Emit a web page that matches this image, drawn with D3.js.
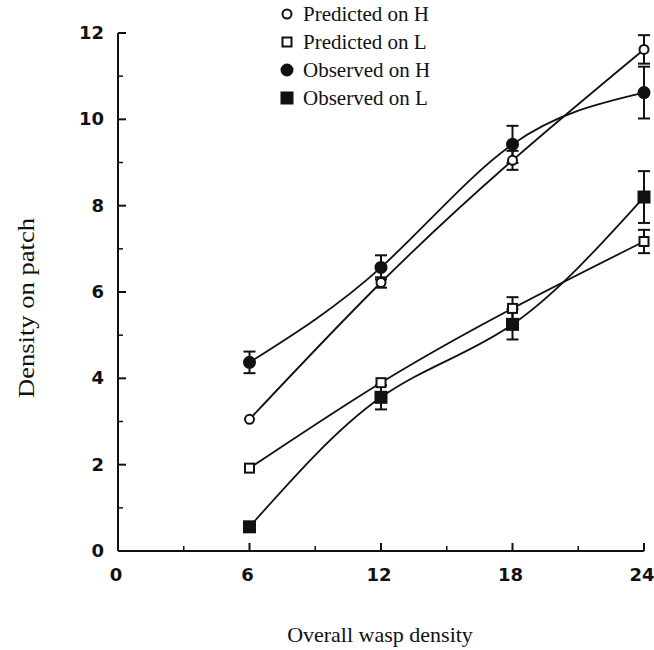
<!DOCTYPE html>
<meta charset="utf-8">
<style>
body { margin: 0; background: #fff; }
.tick-label { font-family: "DejaVu Sans", sans-serif; font-weight: bold; font-size: 18px; fill: #111; }
.title { font-family: "Liberation Serif", serif; font-size: 22px; fill: #111; }
.legend text { font-family: "Liberation Serif", serif; font-size: 21px; fill: #111; }
</style>
<svg width="654" height="650"></svg>
<script src="https://cdn.jsdelivr.net/npm/d3@7/dist/d3.min.js"></script>
<script>

var svg = d3.select("svg");

// values
var waspDensity = [6, 12, 18, 24];
var predictedH = [3.05, 6.22, 9.05, 11.62];
var predictedHErr = [0, 0.12, 0.22, 0.33];
var observedH = [4.37, 6.57, 9.42, 10.62];
var observedHErr = [0.25, 0.28, 0.43, 0.6];
var predictedL = [1.92, 3.9, 5.62, 7.17];
var predictedLErr = [0, 0, 0.26, 0.27];
var observedL = [0.56, 3.56, 5.25, 8.2];
var observedLErr = [0, 0.28, 0.35, 0.6];

var xTicks = [0, 6, 12, 18, 24];
var xMinor = [3, 9, 15, 21];
var yTicks = [0, 2, 4, 6, 8, 10, 12];
var yMinor = [1, 3, 5, 7, 9, 11];

var series = [
  { name: "Predicted on H", values: predictedH, err: predictedHErr, shape: "circle", filled: false },
  { name: "Predicted on L", values: predictedL, err: predictedLErr, shape: "square", filled: false },
  { name: "Observed on H", values: observedH, err: observedHErr, shape: "circle", filled: true },
  { name: "Observed on L", values: observedL, err: observedLErr, shape: "square", filled: true }
];

var x = d3.scaleLinear().domain([0, 24]).range([118, 644]);
var y = d3.scaleLinear().domain([0, 12]).range([551, 33]);

// axes drawn by hand so ticks point inward
var ax = svg.append("g").attr("stroke", "#111").attr("stroke-width", 2);
ax.append("line").attr("x1", x(0)).attr("x2", x(0)).attr("y1", y(0)).attr("y2", y(12));
ax.append("line").attr("x1", x(0)).attr("x2", x(24)).attr("y1", y(0)).attr("y2", y(0));

ax.selectAll(".ytick").data(yTicks.filter(function(d) { return d > 0; })).enter().append("line")
    .attr("x1", x(0)).attr("x2", x(0) + 8)
    .attr("y1", function(d) { return y(d); }).attr("y2", function(d) { return y(d); });
ax.selectAll(".yminor").data(yMinor).enter().append("line")
    .attr("stroke-width", 1.5)
    .attr("x1", x(0)).attr("x2", x(0) + 5)
    .attr("y1", function(d) { return y(d); }).attr("y2", function(d) { return y(d); });
ax.selectAll(".xtick").data(xTicks.filter(function(d) { return d > 0; })).enter().append("line")
    .attr("x1", function(d) { return x(d); }).attr("x2", function(d) { return x(d); })
    .attr("y1", y(0)).attr("y2", y(0) - 8);
ax.selectAll(".xminor").data(xMinor).enter().append("line")
    .attr("stroke-width", 1.5)
    .attr("x1", function(d) { return x(d); }).attr("x2", function(d) { return x(d); })
    .attr("y1", y(0)).attr("y2", y(0) - 5);

svg.append("g").selectAll("text").data(yTicks).enter().append("text")
    .attr("class", "tick-label")
    .attr("text-anchor", "end")
    .attr("x", 104)
    .attr("y", function(d) { return y(d) + 6; })
    .text(function(d) { return d; });

svg.append("g").selectAll("text").data(xTicks).enter().append("text")
    .attr("class", "tick-label")
    .attr("text-anchor", "middle")
    .attr("x", function(d) { return x(d) - 2; })
    .attr("y", 581)
    .text(function(d) { return d; });

svg.append("text").attr("class", "title")
    .attr("text-anchor", "middle")
    .attr("transform", "translate(34,308) rotate(-90)")
    .style("font-size", "24px")
    .attr("textLength", 180)
    .attr("lengthAdjust", "spacingAndGlyphs")
    .text("Density on patch");

svg.append("text").attr("class", "title")
    .attr("text-anchor", "middle")
    .attr("x", 380).attr("y", 642)
    .text("Overall wasp density");

// curves
var line = d3.line()
    .x(function(d, i) { return x(waspDensity[i]); })
    .y(function(d) { return y(d); })
    .curve(d3.curveNatural);

svg.append("g").selectAll("path").data(series).enter().append("path")
    .attr("fill", "none")
    .attr("stroke", "#111")
    .attr("stroke-width", 1.8)
    .attr("d", function(s) { return line(s.values); });

// error bars
series.forEach(function(s) {
  var g = svg.append("g").attr("stroke", "#111").attr("stroke-width", 2);
  s.values.forEach(function(v, i) {
    var e = s.err[i];
    if (!e) return;
    var cx = x(waspDensity[i]);
    g.append("line").attr("x1", cx).attr("x2", cx).attr("y1", y(v - e)).attr("y2", y(v + e));
    g.append("line").attr("x1", cx - 6).attr("x2", cx + 6).attr("y1", y(v - e)).attr("y2", y(v - e));
    g.append("line").attr("x1", cx - 6).attr("x2", cx + 6).attr("y1", y(v + e)).attr("y2", y(v + e));
  });
});

function drawMarker(g, s, cx, cy) {
  if (s.shape === "circle") {
    g.append("circle").attr("cx", cx).attr("cy", cy).attr("r", s.filled ? 5.5 : 4.5)
      .attr("fill", s.filled ? "#111" : "#fff").attr("stroke", "#111").attr("stroke-width", 2);
  } else {
    var h = s.filled ? 5.5 : 4.5;
    g.append("rect").attr("x", cx - h).attr("y", cy - h).attr("width", 2 * h).attr("height", 2 * h)
      .attr("fill", s.filled ? "#111" : "#fff").attr("stroke", "#111").attr("stroke-width", 2);
  }
}

series.forEach(function(s) {
  var g = svg.append("g");
  s.values.forEach(function(v, i) { drawMarker(g, s, x(waspDensity[i]), y(v)); });
});

// legend
var legend = svg.append("g").attr("class", "legend");
series.forEach(function(s, i) {
  var ly = 14 + i * 28;
  drawMarker(legend, { shape: s.shape, filled: s.filled }, 287, ly);
  legend.append("text").attr("x", 303).attr("y", ly + 7).text(s.name);
});

</script>
